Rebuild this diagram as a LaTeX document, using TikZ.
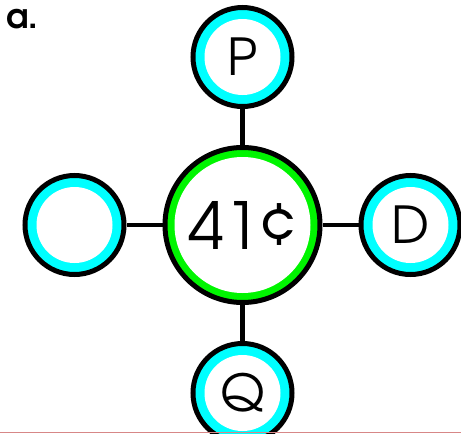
\documentclass[tikz,border=0pt]{standalone}
\usepackage{fontspec}
\setmainfont{texgyreadventor-regular.otf}[BoldFont=texgyreadventor-bold.otf]
\usetikzlibrary{positioning}
\definecolor{ringcyan}{RGB}{0,255,255}
\definecolor{ringgreen}{RGB}{0,245,0}
\definecolor{edgered}{RGB}{215,135,135}

\begin{document}
\begin{tikzpicture}[
	x=1pt, y=-1pt,
	node distance=36pt,
	ring/.style={circle, draw=black, line width=5pt, inner sep=0pt},
	coin/.style={ring, fill=ringcyan, minimum size=99pt, font=\fontsize{51}{51}\selectfont,
		path picture={\fill[white] (path picture bounding box.center) circle (38pt);}},
	total/.style={ring, fill=ringgreen, minimum size=155pt, font=\fontsize{65}{65}\selectfont,
		path picture={\fill[white] (path picture bounding box.center) circle (68pt);}},
	link/.style={line width=4.5pt},
]
	\useasboundingbox (0,0) rectangle (461,434);

	\node (tag) [anchor=base west, inner sep=0pt, font=\bfseries\fontsize{34}{34}\selectfont] at (6,28) {a.};

	\node (sum) [total] at (242.5,225) {41¢};
	\node (p) [coin, above=of sum] {P};
	\node (q) [coin, below=of sum] {Q};
	\node (blank) [coin, left=of sum] {};
	\node (d) [coin, right=of sum] {D};

	\draw[link] (sum) -- (p);
	\draw[link] (sum) -- (q);
	\draw[link] (sum) -- (blank);
	\draw[link] (sum) -- (d);

	\draw[edgered, line width=1.5pt] (0,432.5) -- (461,432.5);
\end{tikzpicture}
\end{document}
